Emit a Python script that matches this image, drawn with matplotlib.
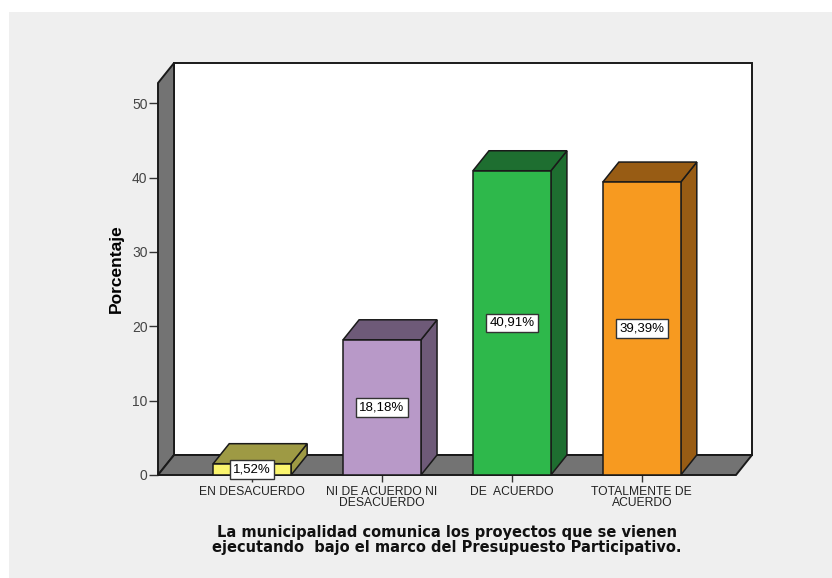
import matplotlib.pyplot as plt
from matplotlib.patches import Polygon, Rectangle

categorias = ['EN DESACUERDO', 'NI DE ACUERDO NI\nDESACUERDO', 'DE  ACUERDO', 'TOTALMENTE DE\nACUERDO']
porcentajes = [1.52, 18.18, 40.91, 39.39]
etiquetas = ['1,52%', '18,18%', '40,91%', '39,39%']
col_frente = ['#fbf56e', '#b899c8', '#2eb84b', '#f79a20']
col_lado = ['#9e9a44', '#6e5a78', '#1e6e30', '#985c14']
yticks = [0, 10, 20, 30, 40, 50]
titulo = ('La municipalidad comunica los proyectos que se vienen\n'
          'ejecutando  bajo el marco del Presupuesto Participativo.')

W, H = 832, 578
fig = plt.figure(figsize=(W / 100, H / 100), dpi=100, facecolor='white')
fig.patches.append(Rectangle((9 / W, 0), 1, 1 - 12 / H, transform=fig.transFigure,
                             facecolor='#efefef', edgecolor='none', zorder=-10))

# axes covers the front plane plus depth
ax = fig.add_axes([158 / W, (H - 475) / H, (752 - 158) / W, (475 - 63) / H])
ax.set_facecolor('none')
x0, x1 = -0.725, 3.725
dx, dy = 0.1234, 2.69
ytop = 55.4
ax.set_xlim(x0, x1 + dx)
ax.set_ylim(0, ytop)
for s in ax.spines.values():
    s.set_visible(False)

ec = '#1a1a1a'
# back wall
ax.add_patch(Polygon([(x0 + dx, dy), (x1 + dx, dy), (x1 + dx, ytop), (x0 + dx, ytop)],
                     closed=True, facecolor='white', edgecolor=ec, lw=1.4, zorder=1, clip_on=False))
# left wall
ax.add_patch(Polygon([(x0, 0), (x0 + dx, dy), (x0 + dx, ytop), (x0, ytop - dy)],
                     closed=True, facecolor='#737373', edgecolor=ec, lw=1.4, zorder=2, clip_on=False))
# floor
ax.add_patch(Polygon([(x0, 0), (x1, 0), (x1 + dx, dy), (x0 + dx, dy)],
                     closed=True, facecolor='#737373', edgecolor=ec, lw=1.4, zorder=2, clip_on=False))

bw = 0.6
for i, (v, cf, cl, lab) in enumerate(zip(porcentajes, col_frente, col_lado, etiquetas)):
    l, r = i - bw / 2, i + bw / 2
    ax.add_patch(Polygon([(r, 0), (r + dx, dy), (r + dx, v + dy), (r, v)], closed=True,
                         facecolor=cl, edgecolor=ec, lw=1.1, zorder=3, clip_on=False))
    ax.add_patch(Polygon([(l, v), (r, v), (r + dx, v + dy), (l + dx, v + dy)], closed=True,
                         facecolor=cl, edgecolor=ec, lw=1.1, zorder=3, clip_on=False))
    ax.add_patch(Rectangle((l, 0), bw, v, facecolor=cf, edgecolor=ec, lw=1.1, zorder=4, clip_on=False))
    ax.text(i, v / 2, lab, ha='center', va='center', fontsize=9.5, family='Liberation Sans',
            zorder=6, bbox=dict(boxstyle='square,pad=0.25', facecolor='white', edgecolor='#333333', lw=1))

ax.set_yticks(yticks)
ax.set_yticklabels([str(t) for t in yticks])
ax.set_xticks(range(len(categorias)))
ax.set_xticklabels(categorias, linespacing=0.85)
ax.tick_params(axis='y', length=6.5, width=1, color='#333333', labelcolor='#444444',
               labelsize=10, pad=1)
ax.tick_params(axis='x', length=5, width=1, color='#333333', labelcolor='#222222',
               labelsize=8.7, pad=3)
for t in ax.get_xticklabels() + ax.get_yticklabels():
    t.set_family('Liberation Sans')

ax.set_ylabel('Porcentaje', fontsize=12.5, fontweight='bold', family='Liberation Sans', labelpad=6)
fig.text(447 / W, 1 - 540 / H, titulo, ha='center', va='center', fontsize=10.5,
         fontweight='bold', family='DejaVu Sans', linespacing=1.05, color='#111111')

fig.savefig('out.png', dpi=100, facecolor=fig.get_facecolor())
